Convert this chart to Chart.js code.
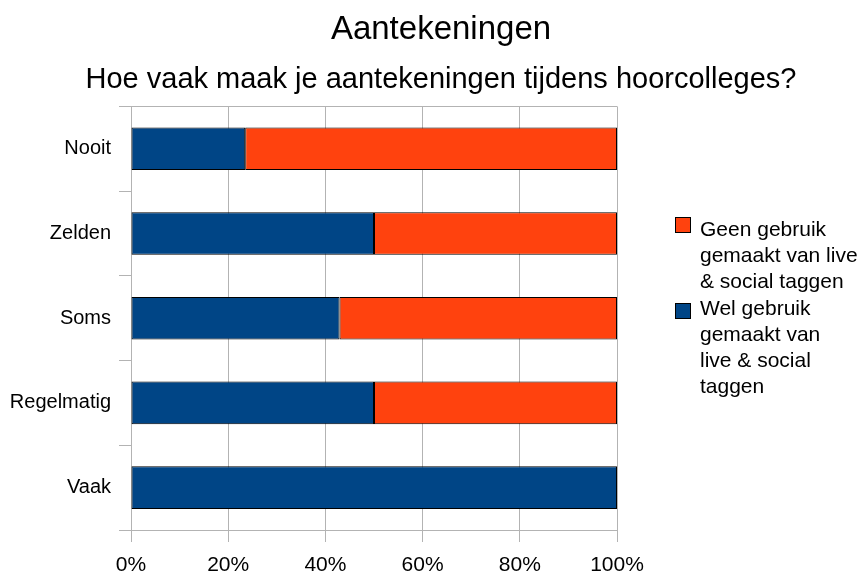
<!DOCTYPE html>
<html>
<head>
<meta charset="utf-8">
<script src="https://cdn.jsdelivr.net/npm/chart.js@4.4.1/dist/chart.umd.min.js"></script>
<style>
  html, body { margin: 0; padding: 0; background: #fff; }
  #wrap { position: relative; width: 860px; height: 574px; }
  #legend { position: absolute; left: 0; top: 0; font-family: 'Liberation Sans', Arial, sans-serif; font-size: 21px; line-height: 26px; color: #000; }
  .box { position: absolute; left: 675px; width: 16px; height: 16px; border: 1px solid #000; box-sizing: border-box; }
  .txt { position: absolute; left: 700px; white-space: nowrap; }
</style>
</head>
<body>
<div id="wrap">
  <canvas id="chart" width="860" height="574"></canvas>
  <div id="legend"></div>
</div>
<script>
const categories = ['Nooit', 'Zelden', 'Soms', 'Regelmatig', 'Vaak'];
const welGebruik = [23.5, 50, 42.9, 50, 100];
const geenGebruik = [76.5, 50, 57.1, 50, 0];
const xTicks = [0, 20, 40, 60, 80, 100];

const blue = '#004586';
const orange = '#ff420e';
const gridGray = '#b3b3b3';
const font = "'Liberation Sans', Arial, sans-serif";

// legend, drawn as html so the labels can wrap like the original
const legendItems = [
  { color: orange, lines: ['Geen gebruik', 'gemaakt van live', '& social taggen'], boxTop: 217, textTop: 216 },
  { color: blue, lines: ['Wel gebruik', 'gemaakt van', 'live & social', 'taggen'], boxTop: 303, textTop: 295 },
];
const legend = document.getElementById('legend');
legendItems.forEach((item) => {
  const box = document.createElement('div');
  box.className = 'box';
  box.style.top = item.boxTop + 'px';
  box.style.background = item.color;
  legend.appendChild(box);
  const txt = document.createElement('div');
  txt.className = 'txt';
  txt.style.top = item.textTop + 'px';
  txt.innerHTML = item.lines.join('<br>');
  legend.appendChild(txt);
});

new Chart(document.getElementById('chart'), {
  type: 'bar',
  data: {
    labels: categories,
    datasets: [
      {
        label: 'Wel gebruik gemaakt van live & social taggen',
        data: welGebruik,
        backgroundColor: blue,
        borderColor: '#000',
        borderWidth: 1,
        borderSkipped: false,
      },
      {
        label: 'Geen gebruik gemaakt van live & social taggen',
        data: geenGebruik,
        backgroundColor: orange,
        borderColor: '#000',
        borderWidth: 1,
        borderSkipped: false,
      }
    ]
  },
  options: {
    indexAxis: 'y',
    responsive: false,
    animation: false,
    barPercentage: 0.503,
    categoryPercentage: 1,
    layout: {
      // negative right padding moves the title centre to x=441 like the original
      padding: { left: 0, right: -22, top: 0, bottom: 0 }
    },
    plugins: {
      legend: { display: false },
      tooltip: { enabled: false },
      title: {
        display: true,
        text: 'Aantekeningen',
        color: '#000',
        font: { family: font, size: 33, weight: 'normal' },
        padding: { top: 10, bottom: 13 }
      },
      subtitle: {
        display: true,
        text: 'Hoe vaak maak je aantekeningen tijdens hoorcolleges?',
        color: '#000',
        font: { family: font, size: 29, weight: 'normal' },
        padding: { top: 0, bottom: 9 }
      }
    },
    scales: {
      x: {
        stacked: true,
        min: 0,
        max: 100,
        afterBuildTicks: (scale) => {
          scale.ticks = xTicks.map((v) => ({ value: v }));
        },
        afterFit: (scale) => { scale.height = 44; },
        grid: {
          color: gridGray,
          tickColor: gridGray,
          tickLength: 12,
          lineWidth: 1
        },
        border: { color: gridGray },
        ticks: {
          color: '#000',
          padding: 11,
          font: { family: font, size: 21 },
          callback: (v) => v + '%'
        }
      },
      y: {
        stacked: true,
        afterFit: (scale) => { scale.width = 131; },
        grid: {
          offset: true,
          color: (c) => (c.type === 'tick' && c.index > 0) ? 'rgba(0,0,0,0)' : gridGray,
          tickColor: gridGray,
          tickLength: 12,
          lineWidth: 1
        },
        border: { color: gridGray },
        ticks: {
          color: '#000',
          padding: 8,
          font: { family: font, size: 20 }
        }
      },
      // empty axis on the right that keeps room free for the legend
      legendSpace: {
        axis: 'y',
        position: 'right',
        afterFit: (scale) => { scale.width = 265; },
        ticks: { display: false },
        grid: { display: false },
        border: { display: false }
      }
    }
  }
});
</script>
</body>
</html>
